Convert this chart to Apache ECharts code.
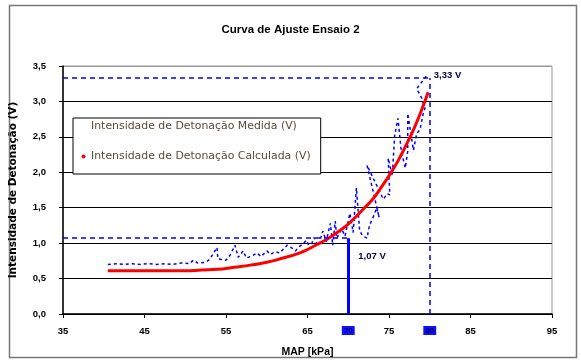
<!DOCTYPE html>
<html>
<head>
<meta charset="utf-8">
<script src="https://cdn.jsdelivr.net/npm/echarts@6/dist/echarts.min.js"></script>
<style>
  html, body { margin: 0; padding: 0; background: #fff; }
  #chart { width: 581px; height: 360px; }
</style>
</head>
<body>
<div id="chart"></div>
<script>
// Axis ticks
const xTicks = [35, 45, 55, 65, 75, 85, 95];
const yTicks = [0, 0.5, 1.0, 1.5, 2.0, 2.5, 3.0, 3.5];

// Measured knock intensity (V) versus MAP (kPa)
const measured = [
  [40.5, 0.70], [41.5, 0.71], [42.5, 0.70], [43.5, 0.71], [44.5, 0.70], [45.5, 0.71],
  [46.5, 0.70], [47.5, 0.71], [48.5, 0.70], [49.5, 0.72], [50.5, 0.71], [51.0, 0.76],
  [51.5, 0.72], [52.5, 0.73], [53.0, 0.77], [53.9, 0.94], [54.0, 0.78], [55.0, 0.76],
  [55.5, 0.83], [56.1, 0.97], [56.5, 0.80], [57.1, 0.89], [57.5, 0.79], [58.2, 0.82],
  [58.8, 0.86], [59.3, 0.81], [60.0, 0.89], [60.5, 0.84], [61.0, 0.88], [61.6, 0.86],
  [62.0, 0.91], [62.5, 0.97], [63.1, 0.93], [63.5, 0.89], [64.0, 0.95], [64.9, 1.04],
  [65.3, 0.92], [65.8, 1.08], [66.3, 0.96], [66.9, 1.17], [67.3, 1.02], [67.8, 1.28],
  [68.1, 0.97], [68.4, 1.31], [68.6, 1.07], [69.2, 1.20], [69.6, 1.10], [70.2, 1.42],
  [70.6, 1.15], [71.0, 1.78], [71.4, 1.17], [71.8, 1.10], [72.3, 1.07], [72.6, 1.25],
  [73.0, 1.35], [73.5, 1.50], [73.8, 1.36], [72.3, 2.10], [74.3, 1.62], [74.8, 1.70],
  [75.1, 1.68], [74.9, 2.20], [75.4, 1.95], [75.7, 2.52], [76.1, 2.76], [76.5, 2.30],
  [77.0, 2.06], [77.3, 2.30], [77.3, 2.83], [78.0, 2.31], [78.4, 2.55], [78.8, 2.60],
  [79.2, 2.83], [79.4, 2.90], [79.0, 3.05], [78.4, 3.18], [79.2, 3.30], [79.6, 3.36]
];

// Fitted (calculated) knock intensity (V)
const calculated = [
  [40.5, 0.61], [42, 0.61], [44, 0.61], [46, 0.61], [48, 0.61], [50, 0.61], [52, 0.62],
  [54, 0.63], [56, 0.66], [58, 0.69], [60, 0.73], [62, 0.79], [64, 0.86], [65, 0.91],
  [66, 0.97], [67, 1.03], [68, 1.10], [69, 1.18], [70, 1.27], [71, 1.38], [72, 1.50],
  [73, 1.62], [74, 1.78], [75, 1.95], [76, 2.14], [77, 2.36], [78, 2.60], [79, 2.88],
  [79.8, 3.13]
];

// Reference points: onset and maximum
const onsetX = 70, onsetY = 1.07;
const maxX = 80, maxY = 3.33;

const fmt = v => v.toFixed(1).replace('.', ',');
const fmt2 = v => v.toFixed(2).replace('.', ',');
const FONT = 'Liberation Sans, Arial, sans-serif';
const WIDE = 'DejaVu Sans, sans-serif';

const chart = echarts.init(document.getElementById('chart'), null, { renderer: 'canvas' });

const boxLabel = txt => ({
  show: true, position: 'start', distance: 12, formatter: txt,
  backgroundColor: '#1010ff', color: '#000060', fontFamily: FONT,
  fontSize: 8, fontWeight: 'bold', padding: [1, 2, 0, 2]
});

chart.setOption({
  animation: false,
  backgroundColor: '#fff',
  graphic: [{
    type: 'rect', shape: { x: 9.5, y: 5.5, width: 567, height: 352 },
    style: { fill: 'none', stroke: '#777', lineWidth: 1.5 }, silent: true
  }],
  title: {
    text: 'Curva de Ajuste Ensaio 2', left: 'center', top: 19,
    textStyle: { fontFamily: FONT, fontSize: 11.5, fontWeight: 'bold', color: '#000' }
  },
  legend: {
    orient: 'vertical', left: 73, top: 118,
    backgroundColor: '#fff', borderColor: '#000', borderWidth: 1,
    padding: [3, 10, 12, 8], itemGap: 19, itemWidth: 5, itemHeight: 4,
    textStyle: { fontFamily: WIDE, fontSize: 10.9, color: '#5a4a3a' },
    data: [
      { name: 'Intensidade de Detonação Medida (V)', icon: 'rect', itemStyle: { opacity: 0 } },
      { name: 'Intensidade de Detonação Calculada (V)', icon: 'circle' }
    ]
  },
  grid: { left: 63, right: 29, top: 66, bottom: 46, show: true, borderColor: '#999', borderWidth: 1, backgroundColor: '#fff', outerBoundsMode: 'none' },
  xAxis: {
    type: 'value', min: xTicks[0], max: xTicks[xTicks.length - 1], interval: 10,
    name: 'MAP [kPa]', nameLocation: 'middle', nameGap: 33,
    nameTextStyle: { fontFamily: FONT, fontSize: 10.5, fontWeight: 'bold', color: '#000' },
    axisLine: { lineStyle: { color: '#000', width: 1.5 } },
    axisTick: { show: true, length: 4, lineStyle: { color: '#000' } },
    axisLabel: { margin: 12, fontFamily: FONT, fontSize: 9.5, fontWeight: 'bold', color: '#000' },
    splitLine: { show: false }
  },
  yAxis: {
    type: 'value', min: yTicks[0], max: yTicks[yTicks.length - 1], interval: 0.5,
    name: 'Intensidade de Detonação (V)', nameLocation: 'middle', nameGap: 44,
    nameTextStyle: { fontFamily: WIDE, fontSize: 10.5, fontWeight: 'bold', color: '#000' },
    axisLine: { lineStyle: { color: '#000', width: 1.5 } },
    axisTick: { show: true, length: 4, lineStyle: { color: '#000' } },
    axisLabel: { margin: 17, fontFamily: FONT, fontSize: 9.5, fontWeight: 'bold', color: '#000', formatter: fmt },
    splitLine: { show: true, lineStyle: { color: ['#000', '#000', '#000', '#000', '#000', '#000', '#000', '#999'], width: 1.2 } }
  },
  series: [
    {
      name: 'Intensidade de Detonação Medida (V)', type: 'line', data: measured,
      showSymbol: false, symbol: 'none', z: 3,
      lineStyle: { color: '#0000ff', width: 1.5, type: [3, 3] },
      itemStyle: { color: '#0000ff' },
      markLine: {
        silent: true, symbol: 'none', animation: false,
        data: [
          [ { coord: [xTicks[0], onsetY], lineStyle: { type: [5, 4], width: 1.5, color: '#0000ff' } },
            { coord: [onsetX, onsetY] } ],
          [ { coord: [onsetX, 0], lineStyle: { type: 'solid', width: 3, color: '#0000ff' }, label: boxLabel(String(onsetX)) },
            { coord: [onsetX, onsetY] } ],
          [ { coord: [xTicks[0], maxY], lineStyle: { type: [5, 4], width: 1.5, color: '#0000ff' },
              label: { show: true, position: 'end', distance: 4, offset: [0, -3], formatter: fmt2(maxY) + ' V', color: '#000040', fontFamily: FONT, fontSize: 9.5, fontWeight: 'bold' } },
            { coord: [maxX, maxY] } ],
          [ { coord: [maxX, 0], lineStyle: { type: [5, 4], width: 1.5, color: '#0000ff' }, label: boxLabel(String(maxX)) },
            { coord: [maxX, maxY] } ]
        ],
        label: { show: false }
      },
      markPoint: {
        silent: true, symbol: 'circle', symbolSize: 0,
        data: [{
          coord: [onsetX, onsetY],
          label: { show: true, position: 'right', distance: 10, offset: [0, 18], formatter: fmt2(onsetY) + ' V',
                   color: '#000040', fontFamily: FONT, fontSize: 9.5, fontWeight: 'bold' }
        }]
      }
    },
    {
      name: 'Intensidade de Detonação Calculada (V)', type: 'line', data: calculated,
      showSymbol: false, symbol: 'none', smooth: true, z: 4,
      lineStyle: { color: '#ff0000', width: 3 },
      itemStyle: { color: '#ff0000' }
    }
  ]
});
</script>
</body>
</html>
